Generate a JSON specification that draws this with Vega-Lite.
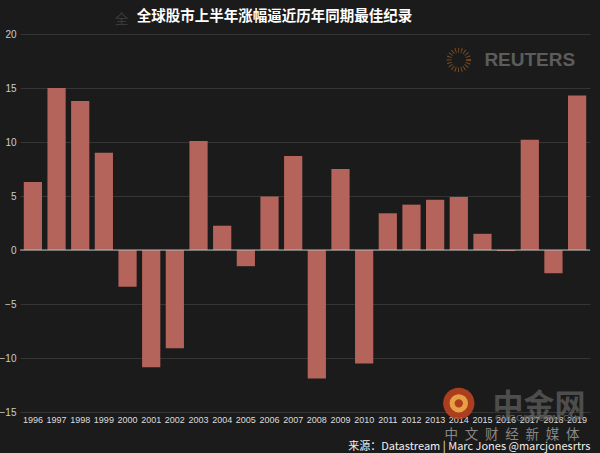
{
  "$schema": "https://vega.github.io/schema/vega-lite/v6.json",
  "width": 570,
  "height": 378,
  "autosize": {"type": "none"},
  "padding": {"left": 20, "top": 34, "right": 10, "bottom": 41},
  "background": "#1b1b1b",
  "config": {
    "view": {"stroke": null},
    "font": "Liberation Sans"
  },
  "data": {
    "values": [
      {"year": "1996", "value": 6.3},
      {"year": "1997", "value": 15.0},
      {"year": "1998", "value": 13.8},
      {"year": "1999", "value": 9.0},
      {"year": "2000", "value": -3.4},
      {"year": "2001", "value": -10.85},
      {"year": "2002", "value": -9.1},
      {"year": "2003", "value": 10.1},
      {"year": "2004", "value": 2.25},
      {"year": "2005", "value": -1.5},
      {"year": "2006", "value": 4.95},
      {"year": "2007", "value": 8.7},
      {"year": "2008", "value": -11.9},
      {"year": "2009", "value": 7.5},
      {"year": "2010", "value": -10.5},
      {"year": "2011", "value": 3.4},
      {"year": "2012", "value": 4.2},
      {"year": "2013", "value": 4.65},
      {"year": "2014", "value": 4.9},
      {"year": "2015", "value": 1.5},
      {"year": "2016", "value": -0.1},
      {"year": "2017", "value": 10.2},
      {"year": "2018", "value": -2.15},
      {"year": "2019", "value": 14.3}
    ]
  },
  "encoding": {
    "x": {
      "field": "year",
      "type": "nominal",
      "sort": null,
      "scale": {"paddingInner": 0.23, "paddingOuter": 0.16},
      "axis": {
        "labelAngle": 0,
        "ticks": false,
        "domain": false,
        "labelFontSize": 9,
        "labelColor": "#dddddd",
        "labelPadding": 3,
        "title": "来源：Datastream  | Marc Jones @marcjonesrtrs",
        "titleAnchor": "end",
        "titleFontSize": 11,
        "titleFontWeight": "normal",
        "titleColor": "#eeeeee",
        "titleFont": "Noto Sans CJK SC",
        "titlePadding": 16
      }
    }
  },
  "layer": [
    {
      "mark": {"type": "bar", "color": "#b4645a"},
      "encoding": {
        "y": {
          "field": "value",
          "type": "quantitative",
          "scale": {"domain": [-15, 20], "nice": false, "zero": false},
          "axis": {
            "values": [-15, -10, -5, 0, 5, 10, 15, 20],
            "ticks": false,
            "domain": false,
            "grid": true,
            "gridColor": "#353535",
            "gridWidth": 1,
            "labelFontSize": 10,
            "labelColor": "#cccccc",
            "labelPadding": 4,
            "title": null
          }
        }
      }
    },
    {
      "data": {"values": [{}]},
      "mark": {"type": "rule", "color": "#bbbbbb", "strokeWidth": 1},
      "encoding": {"y": {"datum": 0}, "x": {"value": 0}, "x2": {"value": 570}}
    },
    {
      "data": {"values": [{}]},
      "mark": {"type": "text", "text": "全球股市上半年涨幅逼近历年同期最佳纪录", "fontSize": 14.5, "fontWeight": "bold", "color": "#ffffff", "align": "center", "baseline": "middle", "font": "Noto Sans CJK SC", "dx": 5},
      "encoding": {"x": {"datum": "2006"}, "y": {"datum": 21.6}}
    },
    {
      "data": {"values": [{}]},
      "mark": {"type": "text", "text": "全", "fontSize": 14, "color": "#3a3a3a", "font": "Noto Sans CJK SC", "baseline": "middle", "align": "center", "dx": -6},
      "encoding": {"x": {"datum": "2000"}, "y": {"datum": 21.3}}
    },
    {
      "data": {"values": [{}]},
      "mark": {"type": "text", "text": "REUTERS", "fontSize": 19, "fontWeight": "bold", "color": "#5c5c5c", "align": "center", "baseline": "middle", "font": "Liberation Sans"},
      "encoding": {"x": {"datum": "2017"}, "y": {"datum": 17.6}}
    },
    {
      "data": {"values": [{}]},
      "mark": {"type": "point", "shape": "circle", "filled": false, "stroke": "#8a5424", "strokeWidth": 5, "strokeDash": [1, 2], "size": 380, "opacity": 0.8},
      "encoding": {"x": {"datum": "2014"}, "y": {"datum": 17.6}}
    },
    {
      "data": {"values": [{}]},
      "mark": {"type": "point", "shape": "circle", "filled": true, "color": "#c4441e", "size": 980, "opacity": 0.85, "dx": 9},
      "encoding": {"x": {"datum": "2014"}, "y": {"datum": -14.2}}
    },
    {
      "data": {"values": [{}]},
      "mark": {"type": "point", "shape": "circle", "filled": false, "stroke": "#f2b24a", "strokeWidth": 5, "size": 180, "opacity": 0.85, "dx": 9},
      "encoding": {"x": {"datum": "2014"}, "y": {"datum": -14.2}}
    },
    {
      "data": {"values": [{}]},
      "mark": {"type": "text", "text": "中金网", "fontSize": 31, "fontWeight": "bold", "color": "#777777", "opacity": 0.55, "align": "left", "baseline": "middle", "font": "Noto Sans CJK SC", "dx": 10},
      "encoding": {"x": {"datum": "2015"}, "y": {"datum": -14.5}}
    },
    {
      "data": {"values": [{}]},
      "mark": {"type": "text", "text": "CNGOLD.COM.CN", "fontSize": 9.5, "color": "#666666", "align": "center", "baseline": "middle", "dx": 6},
      "encoding": {"x": {"datum": "2017"}, "y": {"datum": -15.6}}
    },
    {
      "data": {"values": [{}]},
      "mark": {"type": "text", "text": "中\u2002文\u2002财\u2002经\u2002新\u2002媒\u2002体", "fontSize": 13.5, "color": "#888888", "align": "center", "baseline": "middle", "font": "Noto Sans CJK SC", "dx": 6},
      "encoding": {"x": {"datum": "2016"}, "y": {"datum": -17.1}}
    }
  ]
}
